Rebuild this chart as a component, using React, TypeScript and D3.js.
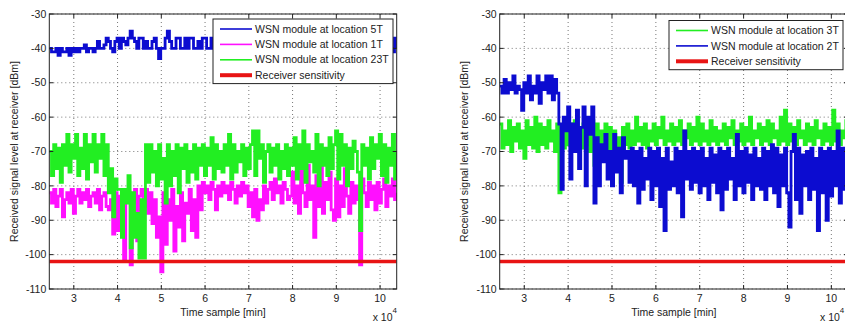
import React from "react";
import * as d3 from "d3";

// ---- data (time in minutes, signal level in dBm) ----
const TIME_START = 24400;
const TIME_END = 103800;
const X_TICKS = [30000, 40000, 50000, 60000, 70000, 80000, 90000, 100000];
const Y_TICKS = [-110, -100, -90, -80, -70, -60, -50, -40, -30];
const SENSITIVITY = -102;

const left5T = [
  -40, -41, -41, -40, -42, -40, -41, -41, -40, -42,
  -40, -41, -40, -41, -40, -40, -39, -41, -40, -40,
  -41, -40, -38, -40, -40, -39, -37, -38, -40, -41,
  -38, -37, -40, -37, -38, -39, -37, -35, -37, -38,
  -40, -37, -37, -40, -38, -40, -40, -38, -37, -40,
  -43, -40, -40, -37, -35, -38, -40, -40, -37, -37,
  -40, -40, -37, -40, -37, -37, -40, -40, -38, -40,
  -37, -37, -40, -40, -37, -40, -38, -38, -40, -37,
  -40, -38, -37, -40, -40, -37, -38, -40, -37, -40,
  -38, -40, -37, -37, -40, -38, -40, -40, -37, -38,
  -40, -37, -40, -38, -38, -40, -37, -40, -40, -38,
  -37, -40, -38, -40, -37, -37, -40, -38, -40, -37,
  -40, -38, -40, -37, -40, -38, -38, -40, -37, -40,
  -38, -40, -37, -40, -38, -40, -40, -37, -38, -40,
  -37, -40, -38, -40, -37, -40, -38, -40, -40, -38,
  -40, -38, -40, -37, -40, -38, -40, -41, -37, -40,
];

const left1T = [
  -82, -85, -81, -86, -83, -81, -89, -84, -82, -85,
  -81, -88, -83, -81, -85, -82, -84, -81, -86, -83,
  -82, -85, -81, -87, -83, -82, -86, -87, -84, -94,
  -82, -93, -83, -88, -102, -84, -82, -103, -85, -81,
  -96, -83, -81, -86, -81, -88, -82, -91, -84, -95,
  -89, -105, -82, -97, -84, -90, -81, -99, -86, -92,
  -82, -96, -85, -88, -81, -93, -84, -95, -80, -87,
  -79, -82, -80, -84, -79, -81, -87, -80, -83, -79,
  -82, -80, -84, -79, -81, -85, -80, -83, -79, -82,
  -80, -86, -82, -89, -81, -90, -84, -87, -80, -85,
  -81, -79, -84, -78, -82, -80, -85, -79, -81, -84,
  -83, -76, -85, -80, -88, -75, -82, -86, -74, -84,
  -80, -95, -77, -86, -74, -88, -79, -84, -76, -87,
  -90, -78, -89, -80, -86, -75, -83, -88, -79, -85,
  -80, -84, -103, -78, -82, -86, -79, -84, -80, -87,
  -79, -85, -81, -78, -86, -80, -83, -78, -84, -82,
];

const left23T = [
  -70, -77, -68, -75, -69, -79, -68, -74, -65, -76,
  -68, -72, -65, -77, -69, -75, -65, -78, -68, -73,
  -65, -76, -68, -72, -65, -77, -68, -82, -75, -89,
  -78, -81, -81, -95, -81, -85, -77, -98, -82, -95,
  -88, -101, -84, -101, -68, -79, -68, -76, -70, -80,
  -68, -78, -72, -85, -68, -80, -70, -77, -68, -82,
  -69, -75, -68, -79, -70, -76, -68, -78, -69, -74,
  -68, -77, -69, -74, -66, -78, -68, -75, -70, -76,
  -68, -74, -65, -78, -68, -76, -70, -73, -68, -77,
  -69, -75, -68, -64, -77, -64, -72, -68, -79, -70,
  -68, -76, -69, -74, -68, -78, -70, -75, -68, -77,
  -69, -74, -66, -78, -68, -75, -64, -79, -68, -73,
  -70, -76, -65, -80, -68, -74, -69, -77, -66, -75,
  -68, -64, -78, -65, -74, -68, -80, -69, -75, -67,
  -70, -76, -93, -68, -74, -69, -78, -66, -75, -68,
  -72, -65, -77, -68, -79, -69, -74, -65, -78, -70,
];

const right3T = [
  -62, -69, -64, -68, -61, -70, -63, -67, -62, -69,
  -64, -72, -61, -68, -63, -69, -60, -70, -62, -68,
  -63, -69, -61, -67, -64, -70, -62, -82, -66, -69,
  -63, -68, -62, -70, -61, -67, -64, -69, -62, -68,
  -63, -70, -61, -74, -62, -68, -64, -69, -62, -70,
  -63, -75, -64, -70, -66, -79, -63, -68, -62, -69,
  -64, -68, -60, -67, -63, -68, -62, -69, -64, -67,
  -62, -68, -63, -66, -60, -68, -64, -67, -62, -68,
  -63, -67, -61, -68, -64, -66, -62, -68, -63, -67,
  -60, -68, -62, -67, -64, -68, -61, -67, -63, -68,
  -64, -67, -62, -68, -63, -66, -61, -68, -64, -67,
  -62, -68, -63, -67, -60, -68, -64, -66, -62, -68,
  -63, -67, -61, -68, -62, -66, -64, -68, -60, -67,
  -58, -68, -62, -67, -63, -68, -61, -66, -64, -68,
  -62, -67, -63, -68, -61, -66, -64, -68, -62, -67,
  -63, -68, -58, -67, -62, -68, -64, -66, -61, -68,
];

const right2T = [
  -51, -53, -49, -53, -50, -52, -48, -53, -51, -52,
  -58, -50, -53, -48, -55, -51, -53, -48, -56, -50,
  -52, -48, -53, -48, -55, -49, -53, -62, -81, -60,
  -64, -57, -78, -62, -70, -58, -75, -63, -57, -80,
  -60, -65, -57, -85, -66, -80, -68, -73, -65, -78,
  -70, -80, -65, -76, -69, -82, -66, -72, -70, -79,
  -69, -80, -70, -85, -69, -81, -72, -78, -69, -84,
  -70, -80, -69, -86, -72, -93, -69, -81, -73, -80,
  -69, -82, -70, -89, -64, -78, -70, -81, -69, -79,
  -70, -82, -69, -80, -72, -84, -69, -79, -71, -82,
  -69, -87, -70, -81, -69, -78, -72, -84, -65, -80,
  -70, -82, -69, -79, -71, -84, -69, -80, -72, -81,
  -69, -84, -70, -80, -68, -82, -69, -86, -71, -80,
  -69, -82, -92, -70, -65, -84, -69, -88, -71, -80,
  -70, -84, -69, -81, -72, -93, -69, -82, -70, -90,
  -69, -83, -70, -80, -64, -85, -69, -81, -71, -82,
];

const BLUE = "#0c0cd0";
const MAGENTA = "#ff10ff";
const GREEN = "#22ee22";
const RED = "#e81414";
const FONT = "'Liberation Sans', Arial, sans-serif";
const FS = 10.5;

type Series = { values: number[]; color: string; label: string };

type PanelProps = {
  id: string;
  left: number;
  right: number;
  series: Series[];
  legend: { x0: number; x1: number; y0: number };
  expOffset: number;
};

const TOP = 14;
const BOTTOM = 289;

function Panel({ id, left, right, series, legend, expOffset }: PanelProps) {
  const x = d3.scaleLinear().domain([TIME_START, TIME_END]).range([left, right]);
  const y = d3.scaleLinear().domain([-110, -30]).range([BOTTOM, TOP]);
  const tick = 4;

  const lines = series.map((s) => {
    const idx = d3.scaleLinear().domain([0, s.values.length - 1]).range([TIME_START, TIME_END]);
    const gen = d3
      .line<number>()
      .x((_, i) => x(idx(i)))
      .y((d) => y(d))
      .curve(d3.curveStepAfter);
    return { d: gen(s.values) || "", color: s.color };
  });

  const legendItems = [
    ...series.map((s) => ({ label: s.label, color: s.color, w: 1.6 })),
    { label: "Receiver sensitivity", color: RED, w: 4 },
  ];
  const rowH = 15.4;
  const boxH = legendItems.length * rowH + 3;

  return (
    <g>
      <defs>
        <clipPath id={`clip-${id}`}>
          <rect x={left} y={TOP} width={right - left} height={BOTTOM - TOP} />
        </clipPath>
      </defs>
      <rect x={left} y={TOP} width={right - left} height={BOTTOM - TOP} fill="#fff" />
      {/* grid */}
      <g stroke="#777" strokeWidth={1} strokeDasharray="1,3">
        {X_TICKS.map((t) => (
          <line key={`gx${t}`} x1={x(t)} x2={x(t)} y1={TOP} y2={BOTTOM} />
        ))}
        {Y_TICKS.map((t) => (
          <line key={`gy${t}`} x1={left} x2={right} y1={y(t)} y2={y(t)} />
        ))}
      </g>
      {/* data */}
      <g clipPath={`url(#clip-${id})`}>
        {lines.map((l, i) => (
          <path key={i} d={l.d} fill="none" stroke={l.color} strokeWidth={2.8} strokeLinejoin="miter" />
        ))}
        <line x1={left} x2={right} y1={y(SENSITIVITY)} y2={y(SENSITIVITY)} stroke={RED} strokeWidth={3.5} />
      </g>
      {/* frame and ticks */}
      <rect x={left} y={TOP} width={right - left} height={BOTTOM - TOP} fill="none" stroke="#222" strokeWidth={1} />
      <g stroke="#222" strokeWidth={1}>
        {X_TICKS.map((t) => (
          <g key={`tx${t}`}>
            <line x1={x(t)} x2={x(t)} y1={BOTTOM} y2={BOTTOM - tick} />
            <line x1={x(t)} x2={x(t)} y1={TOP} y2={TOP + tick} />
          </g>
        ))}
        {Y_TICKS.map((t) => (
          <g key={`ty${t}`}>
            <line x1={left} x2={left + tick} y1={y(t)} y2={y(t)} />
            <line x1={right} x2={right - tick} y1={y(t)} y2={y(t)} />
          </g>
        ))}
      </g>
      <g fontFamily={FONT} fontSize={FS} fill="#222">
        {X_TICKS.map((t) => (
          <text key={`lx${t}`} x={x(t)} y={BOTTOM + 13} textAnchor="middle">
            {d3.format("d")(t / 10000)}
          </text>
        ))}
        {Y_TICKS.map((t) => (
          <text key={`ly${t}`} x={left - 3} y={y(t)} dy="0.35em" textAnchor="end">
            {t}
          </text>
        ))}
        <text x={(left + right) / 2} y={315.5} textAnchor="middle">
          Time sample [min]
        </text>
        <text x={right - expOffset} y={321}>
          x 10
          <tspan dy={-8} fontSize={8}>4</tspan>
        </text>
        <text
          transform={`translate(${left - 35},${(TOP + BOTTOM) / 2}) rotate(-90)`}
          textAnchor="middle"
          dy="0.35em"
        >
          Received signal level at receiver [dBm]
        </text>
      </g>
      {/* legend */}
      <g fontFamily={FONT} fontSize={FS} fill="#222">
        <rect
          x={legend.x0}
          y={legend.y0}
          width={legend.x1 - legend.x0}
          height={boxH}
          fill="#fff"
          stroke="#222"
          strokeWidth={1}
        />
        {legendItems.map((it, i) => {
          const cy = legend.y0 + 10 + i * rowH;
          return (
            <g key={it.label}>
              <line
                x1={legend.x0 + 7}
                x2={legend.x0 + 39}
                y1={cy}
                y2={cy}
                stroke={it.color}
                strokeWidth={it.w}
              />
              <text x={legend.x0 + 42} y={cy} dy="0.35em">
                {it.label}
              </text>
            </g>
          );
        })}
      </g>
    </g>
  );
}

export default function App() {
  return (
    <svg
      width={845}
      height={322}
      style={{ position: "fixed", left: 0, top: 0, background: "#fff" }}
    >
      <rect width={845} height={322} fill="#fff" />
      <Panel
        id="left"
        left={49.3}
        right={396.7}
        series={[
          { values: left5T, color: BLUE, label: "WSN module at location 5T" },
          { values: left1T, color: MAGENTA, label: "WSN module at location 1T" },
          { values: left23T, color: GREEN, label: "WSN module at location 23T" },
        ]}
        legend={{ x0: 213, x1: 393, y0: 19 }}
        expOffset={24}
      />
      <Panel
        id="right"
        left={499.7}
        right={848}
        series={[
          { values: right3T, color: GREEN, label: "WSN module at location 3T" },
          { values: right2T, color: BLUE, label: "WSN module at location 2T" },
        ]}
        legend={{ x0: 669, x1: 843, y0: 20.5 }}
        expOffset={28}
      />
    </svg>
  );
}
